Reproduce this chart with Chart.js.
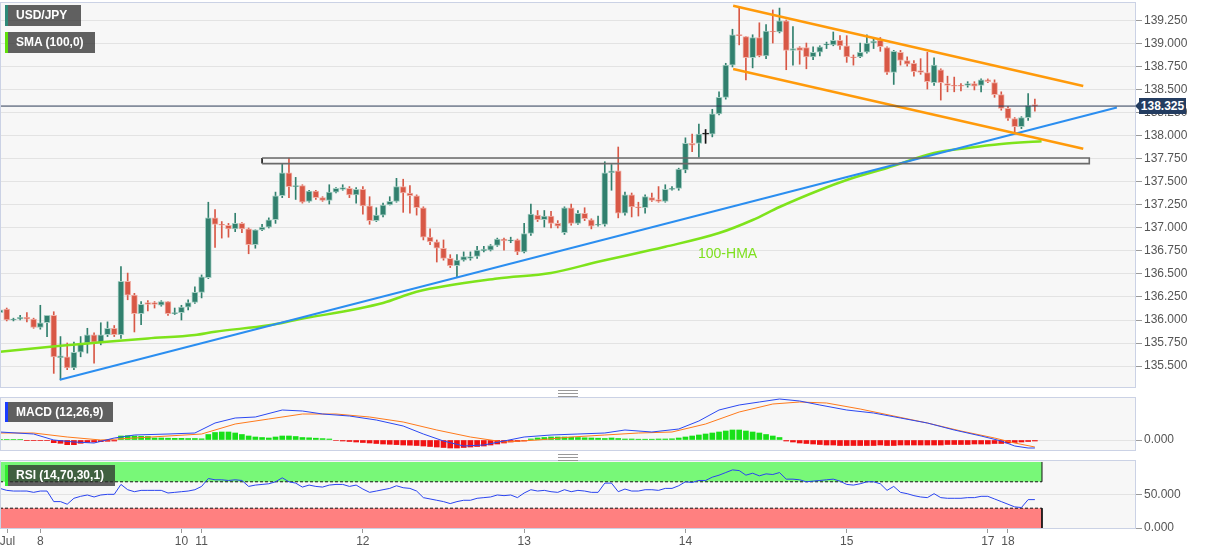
<!DOCTYPE html>
<html>
<head>
<meta charset="utf-8">
<script src="https://cdn.jsdelivr.net/npm/chart.js@4.4.0/dist/chart.umd.min.js"></script>
<style>
body { margin: 0; background: #fff; font-family: "Liberation Sans", Arial, sans-serif; }
#wrap { position: relative; width: 1207px; height: 555px; overflow: hidden; }
canvas { position: absolute; left: 0; }
.tag { position: absolute; height: 21px; line-height: 21px; color: #fff; font-weight: bold; font-size: 12px;
       padding-left: 11px; box-sizing: border-box; background: rgba(45,45,45,0.75); white-space: nowrap; }
.tag i { position: absolute; left: 0; top: 0; bottom: 0; width: 3px; }
#price { position: absolute; left: 1139px; top: 98px; width: 47px; height: 16px; line-height: 16px; background: #233c60;
         color: #fff; font-weight: bold; font-size: 12px; text-align: center; }
#price:before { content: ""; position: absolute; left: -4px; top: 4px; border-style: solid; border-width: 4px 4px 4px 0;
                border-color: transparent #233c60 transparent transparent; }
#hma { position: absolute; left: 698px; top: 245px; color: #7ee01f; font-size: 14px; }
.grip { position: absolute; left: 558px; width: 20px; height: 5px; border-top: 1px solid #999; border-bottom: 1px solid #999; }
.grip:after { content: ""; position: absolute; left: 0; right: 0; top: 2px; border-top: 1px solid #999; }
</style>
</head>
<body>
<div id="wrap">
  <canvas id="mainChart" width="1207" height="386" style="top:2px"></canvas>
  <canvas id="macdChart" width="1207" height="54" style="top:397px"></canvas>
  <canvas id="rsiChart" width="1207" height="95" style="top:460px"></canvas>
  <div class="tag" style="left:5px;top:5px;width:76px"><i style="background:#2d8a78"></i>USD/JPY</div>
  <div class="tag" style="left:5px;top:32px;width:90px"><i style="background:#5fe00a"></i>SMA (100,0)</div>
  <div class="tag" style="left:5px;top:402px;width:108px;height:20px;line-height:20px"><i style="background:#1a3cff"></i>MACD (12,26,9)</div>
  <div class="tag" style="left:5px;top:465px;width:110px"><i style="background:#33ee33"></i>RSI (14,70,30,1)</div>
  <div id="price">138.325</div>
  <div id="hma">100-HMA</div>
  <div class="grip" style="top:390px"></div>
  <div class="grip" style="top:454px"></div>
</div>
<script>
// hourly candles, index 0 = Jul 7 18:00
const candleOpen = [
  136.08, 136.12, 136.00, 136.01, 136.03, 136.01, 135.92, 135.97, 136.05, 135.59,
  135.60, 135.48, 135.65, 135.75, 135.84, 135.75, 135.84, 135.91, 135.84, 136.42,
  136.27, 136.07, 136.19, 136.19, 136.16, 136.20, 136.07, 136.08, 136.14, 136.19,
  136.30, 136.46, 137.11, 137.04, 137.03, 136.99, 137.05, 136.99, 136.82, 136.98,
  137.01, 137.09, 137.35, 137.60, 137.45, 137.46, 137.29, 137.40, 137.33, 137.30,
  137.39, 137.42, 137.43, 137.36, 137.42, 137.24, 137.08, 137.14, 137.25, 137.29,
  137.45, 137.38, 137.35, 137.22, 136.90, 136.85, 136.78, 136.67, 136.59, 136.65,
  136.67, 136.69, 136.75, 136.76, 136.81, 136.88, 136.86, 136.87, 136.74, 136.94,
  137.14, 137.09, 137.13, 137.05, 136.95, 137.22, 137.05, 137.16, 137.09, 137.03,
  137.04, 137.60, 137.62, 137.16, 137.36, 137.23, 137.22, 137.33, 137.31, 137.29,
  137.42, 137.43, 137.63, 137.92, 137.92, 138.02, 138.02, 138.24, 138.42, 138.77,
  139.10, 139.08, 138.85, 139.07, 138.87, 139.14, 139.13, 139.25, 138.93, 138.96,
  138.96, 138.86, 138.91, 138.99, 138.99, 139.04, 138.98, 138.86, 138.86, 138.91,
  139.01, 139.04, 138.96, 138.69, 138.91, 138.82, 138.79, 138.71, 138.69, 138.58,
  138.72, 138.57, 138.55, 138.55, 138.55, 138.57, 138.55, 138.61, 138.58, 138.45,
  138.30, 138.19, 138.10, 138.20, 138.34
];
const candleHigh = [
  136.12, 136.13, 136.02, 136.05, 136.08, 136.02, 136.16, 136.05, 136.09, 135.82,
  135.75, 135.76, 135.82, 135.91, 135.86, 135.97, 135.98, 135.94, 136.58, 136.51,
  136.29, 136.20, 136.21, 136.20, 136.21, 136.20, 136.13, 136.16, 136.22, 136.36,
  136.49, 137.28, 137.20, 137.07, 137.05, 137.16, 137.06, 137.00, 136.98, 137.04,
  137.11, 137.39, 137.70, 137.76, 137.55, 137.47, 137.41, 137.41, 137.34, 137.47,
  137.44, 137.47, 137.45, 137.44, 137.45, 137.34, 137.22, 137.27, 137.34, 137.54,
  137.53, 137.46, 137.36, 137.23, 136.99, 136.87, 136.87, 136.71, 136.71, 136.74,
  136.74, 136.80, 136.80, 136.82, 136.89, 136.89, 136.90, 136.88, 137.05, 137.26,
  137.19, 137.19, 137.18, 137.08, 137.23, 137.26, 137.19, 137.22, 137.10, 137.13,
  137.72, 137.69, 137.88, 137.39, 137.38, 137.28, 137.36, 137.38, 137.45, 137.47,
  137.45, 137.65, 137.98, 138.02, 138.13, 138.07, 138.29, 138.48, 138.79, 139.16,
  139.40, 139.08, 139.10, 139.23, 139.21, 139.37, 139.39, 139.26, 139.19, 138.97,
  139.01, 138.97, 138.98, 139.02, 139.13, 139.09, 139.09, 138.88, 139.01, 139.10,
  139.07, 139.07, 138.97, 138.93, 138.93, 138.86, 138.82, 138.84, 138.91, 138.85,
  138.73, 138.65, 138.64, 138.57, 138.59, 138.59, 138.62, 138.62, 138.61, 138.48,
  138.32, 138.20, 138.21, 138.46, 138.40
];
const candleLow = [
  136.07, 135.99, 135.99, 136.00, 135.98, 135.91, 135.90, 135.82, 135.42, 135.35,
  135.46, 135.46, 135.60, 135.64, 135.53, 135.73, 135.82, 135.82, 135.80, 136.22,
  135.87, 135.95, 136.10, 136.13, 136.15, 136.05, 136.06, 136.00, 136.11, 136.18,
  136.24, 136.45, 136.79, 136.89, 136.90, 136.96, 136.95, 136.72, 136.78, 136.97,
  137.00, 137.05, 137.33, 137.33, 137.31, 137.27, 137.28, 137.31, 137.29, 137.26,
  137.38, 137.41, 137.33, 137.27, 137.15, 137.04, 137.07, 137.12, 137.25, 137.28,
  137.17, 137.16, 137.14, 136.87, 136.82, 136.63, 136.65, 136.57, 136.47, 136.64,
  136.65, 136.67, 136.74, 136.75, 136.80, 136.76, 136.84, 136.71, 136.73, 136.92,
  137.07, 137.01, 137.00, 137.00, 136.93, 137.03, 137.04, 137.08, 136.99, 137.02,
  137.02, 137.41, 137.11, 137.14, 137.12, 137.13, 137.16, 137.29, 137.28, 137.28,
  137.41, 137.41, 137.60, 137.83, 137.77, 137.92, 137.99, 138.23, 138.40, 138.75,
  138.99, 138.61, 138.74, 138.86, 138.84, 139.01, 139.12, 138.72, 138.77, 138.78,
  138.73, 138.83, 138.87, 138.95, 138.98, 138.94, 138.80, 138.77, 138.85, 138.90,
  138.95, 138.92, 138.67, 138.56, 138.77, 138.76, 138.65, 138.67, 138.51, 138.55,
  138.39, 138.48, 138.48, 138.49, 138.53, 138.50, 138.48, 138.58, 138.42, 138.28,
  138.17, 138.03, 138.08, 138.17, 138.27
];
const candleClose = [
  136.11, 136.00, 136.01, 136.03, 136.01, 135.92, 135.97, 136.05, 135.60, 135.61,
  135.48, 135.65, 135.75, 135.84, 135.76, 135.84, 135.91, 135.84, 136.42, 136.27,
  136.07, 136.17, 136.17, 136.17, 136.20, 136.07, 136.08, 136.14, 136.19, 136.30,
  136.47, 137.11, 137.04, 137.03, 136.99, 137.05, 136.99, 136.82, 136.98, 137.01,
  137.09, 137.35, 137.60, 137.45, 137.46, 137.28, 137.40, 137.33, 137.30, 137.39,
  137.43, 137.44, 137.36, 137.42, 137.24, 137.08, 137.14, 137.25, 137.29, 137.45,
  137.38, 137.35, 137.22, 136.90, 136.85, 136.78, 136.67, 136.59, 136.65, 136.69,
  136.69, 136.76, 136.77, 136.81, 136.88, 136.86, 136.87, 136.74, 136.94, 137.15,
  137.09, 137.13, 137.05, 137.02, 137.22, 137.05, 137.16, 137.10, 137.02, 137.04,
  137.60, 137.62, 137.16, 137.36, 137.23, 137.22, 137.34, 137.30, 137.29, 137.42,
  137.43, 137.64, 137.92, 137.90, 138.02, 138.02, 138.24, 138.42, 138.77, 139.10,
  139.09, 138.85, 139.07, 138.87, 139.14, 139.13, 139.25, 138.93, 138.95, 138.93,
  138.86, 138.91, 138.97, 139.00, 139.04, 138.98, 138.86, 138.85, 138.91, 139.01,
  139.03, 138.97, 138.69, 138.92, 138.82, 138.78, 138.70, 138.69, 138.59, 138.77,
  138.58, 138.55, 138.54, 138.54, 138.57, 138.54, 138.61, 138.59, 138.45, 138.30,
  138.19, 138.10, 138.20, 138.33, 138.325
];
const lastPrice = 138.325;

// 100-period moving average, read at a few candle positions
const smaK   = [0, 9, 15, 22, 29, 32, 40, 44, 57, 62, 74, 82, 89, 99, 107, 112, 116, 122, 126, 132, 139, 144, 149, 155];
const smaVal = [135.655, 135.72, 135.757, 135.80, 135.837, 135.873, 135.942, 136.00, 136.185, 136.307, 136.451, 136.511,
                136.633, 136.796, 136.945, 137.087, 137.228, 137.413, 137.522, 137.652, 137.815, 137.87, 137.913, 137.942];

// drawn studies
const trendK = [8.9, 166.2],   trendVal = [135.35, 138.31];
const chTopK = [109.1, 161.2], chTopVal = [139.416, 138.543];
const chBotK = [109.1, 161.2], chBotVal = [138.728, 137.862];
const zoneK  = [39, 162.1],    zoneVal  = [137.70, 137.76];

// MACD (12,26,9)
const macdK   = [0, 5, 8, 11, 14, 17, 20, 25, 29, 32, 35, 38, 42, 45, 48, 52, 56, 60, 63, 66, 69, 72, 75, 78, 82, 86, 90, 93,
                 97, 101, 104, 107, 110, 113, 116, 119, 122, 126, 130, 134, 138, 142, 146, 149, 151, 153, 154];
const macdVal = [0.08, 0.06, 0.00, -0.02, -0.03, 0.02, 0.05, 0.06, 0.07, 0.17, 0.22, 0.23, 0.30, 0.29, 0.26, 0.24, 0.20,
                 0.14, 0.06, -0.01, -0.06, -0.05, -0.01, 0.03, 0.05, 0.06, 0.07, 0.10, 0.08, 0.11, 0.19, 0.30, 0.35, 0.38,
                 0.41, 0.39, 0.35, 0.30, 0.27, 0.22, 0.17, 0.10, 0.04, -0.01, -0.06, -0.08, -0.08];
const signalK   = [0, 5, 10, 15, 20, 25, 30, 35, 40, 45, 50, 55, 60, 65, 70, 75, 80, 85, 90, 95, 100, 105, 110, 115, 119,
                   123, 128, 133, 138, 143, 148, 151, 154];
const signalVal = [0.07, 0.07, 0.03, 0.00, 0.02, 0.04, 0.06, 0.16, 0.21, 0.26, 0.26, 0.23, 0.18, 0.10, 0.03, -0.02, 0.00,
                   0.03, 0.05, 0.07, 0.08, 0.16, 0.28, 0.36, 0.38, 0.37, 0.31, 0.24, 0.17, 0.09, 0.02, -0.03, -0.07];
const histVal = [
  0.004, 0.004, 0.004, 0.004, -0.006, -0.006, -0.006, -0.006, -0.027, -0.033,
  -0.047, -0.047, -0.033, -0.023, -0.02, -0.017, -0.013, -0.01, 0.04, 0.043,
  0.04, 0.037, 0.035, 0.02, 0.02, 0.018, 0.017, 0.017, 0.015, 0.015,
  0.012, 0.055, 0.075, 0.08, 0.08, 0.07, 0.055, 0.04, 0.03, 0.025,
  0.02, 0.03, 0.04, 0.04, 0.035, 0.025, 0.022, 0.018, 0.014, 0.01,
  -0.005, -0.01, -0.015, -0.02, -0.025, -0.03, -0.035, -0.04, -0.043, -0.046,
  -0.05, -0.052, -0.055, -0.06, -0.065, -0.07, -0.075, -0.08, -0.08, -0.075,
  -0.07, -0.065, -0.06, -0.05, -0.04, -0.03, -0.02, -0.015, -0.01, 0.01,
  0.02, 0.025, 0.03, 0.03, 0.03, 0.028, 0.025, 0.022, 0.02, 0.018,
  0.015, 0.02, 0.015, 0.01, 0.01, 0.008, 0.008, 0.008, 0.01, 0.01,
  0.012, 0.02, 0.03, 0.04, 0.05, 0.06, 0.07, 0.08, 0.09, 0.1,
  0.1, 0.09, 0.08, 0.07, 0.055, 0.04, 0.025, -0.01, -0.02, -0.03,
  -0.035, -0.04, -0.045, -0.05, -0.05, -0.055, -0.055, -0.055, -0.055, -0.055,
  -0.055, -0.05, -0.055, -0.055, -0.05, -0.05, -0.05, -0.05, -0.05, -0.05,
  -0.05, -0.045, -0.045, -0.045, -0.045, -0.04, -0.04, -0.04, -0.035, -0.035,
  -0.03, -0.025, -0.02, -0.015, -0.01
];

// RSI (14)
const rsiVal = [
  60, 57, 56, 56, 56, 54, 56, 56, 40, 40,
  36, 45, 48, 50, 47, 50, 51, 51, 66, 58,
  55, 57, 57, 57, 57, 53, 54, 55, 56, 58,
  63, 75, 73, 73, 72, 73, 72, 63, 65, 66,
  67, 70, 76, 70, 68, 62, 65, 63, 62, 65,
  66, 66, 63, 65, 59, 54, 56, 58, 60, 64,
  61, 60, 56, 46, 44, 42, 40, 37, 40, 42,
  42, 45, 46, 47, 50, 49, 50, 46, 53, 58,
  56, 57, 55, 54, 58, 55, 57, 56, 54, 54,
  68, 68, 55, 59, 56, 56, 58, 58, 57, 60,
  60, 64, 70, 69, 72, 72, 77, 80, 84, 88,
  87, 80, 83, 79, 82, 81, 84, 74, 74, 73,
  70, 71, 72, 73, 74, 71, 66, 65, 67, 70,
  70, 67, 57, 63, 54, 52, 49, 47, 46, 52,
  46, 45, 45, 45, 46, 46, 48, 48, 44, 40,
  36, 32, 31, 43, 43
];
const rsiBandEndK = 155.06;

// x axis labels (candle index of each day start)
const dayTickPos    = [1.1, 6, 27, 30, 54, 78, 102, 126, 147, 150];
const dayTickLabels = ['Jul', '8', '10', '11', '12', '13', '14', '15', '17', '18'];

const mainTicks = [135.5, 135.75, 136, 136.25, 136.5, 136.75, 137, 137.25, 137.5, 137.75, 138, 138.25, 138.5, 138.75, 139, 139.25];

const X_MIN = 0, X_MAX = 169.05;
const FONT = { family: 'Liberation Sans, Arial, sans-serif', size: 12 };

const panelPlugin = {
  id: 'panel',
  beforeDraw(chart) {
    const { ctx, chartArea: a } = chart;
    ctx.save();
    ctx.fillStyle = '#f7f7f7';
    ctx.fillRect(a.left, a.top, a.width, a.height);
    ctx.restore();
  },
  afterDraw(chart) {
    const { ctx, chartArea: a } = chart;
    ctx.save();
    ctx.strokeStyle = '#cbd2e5';
    ctx.lineWidth = 1;
    ctx.strokeRect(a.left + 0.5, a.top + 0.5, a.width - 1, a.height - 1);
    ctx.restore();
  }
};

function pts(ks, vs) {
  return ks.map((k, i) => ({ x: k, y: vs[i] }));
}

function yAxis(min, max, tickVals) {
  return {
    position: 'right', min: min, max: max,
    afterBuildTicks: s => { s.ticks = tickVals.map(v => ({ value: v })); },
    afterFit: s => { s.width = 71; s.paddingTop = 0; s.paddingBottom = 0; },
    ticks: { color: '#555', font: FONT, padding: 2, callback: v => Number(v).toFixed(3) },
    grid: { color: '#e3e3e3', tickColor: '#9a9a9a', tickLength: 6 },
    border: { display: false }
  };
}

function hiddenX() {
  return { type: 'linear', min: X_MIN, max: X_MAX, offset: false, grid: { offset: false }, display: false };
}

function baseOptions(scales) {
  return {
    responsive: false, animation: false, events: [],
    layout: { padding: 0, autoPadding: false },
    plugins: { legend: { display: false }, tooltip: { enabled: false } },
    scales: scales
  };
}

function line(data, color, width, order) {
  return { type: 'line', data: data, borderColor: color, borderWidth: width, pointRadius: 0, fill: false, order: order };
}

// candle colours
function bodyColor(i) {
  if (candleClose[i] > candleOpen[i]) return '#31806e';
  if (candleClose[i] < candleOpen[i]) return '#d85846';
  return '#111111';
}
function edgeColor(i) {
  if (candleClose[i] > candleOpen[i]) return '#a4cdc2';
  if (candleClose[i] < candleOpen[i]) return '#f0b1a8';
  return '#111111';
}

const wickData = candleOpen.map((o, i) => ({ x: i, y: [candleLow[i], candleHigh[i]] }));
const bodyData = candleOpen.map((o, i) => ({ x: i, y: [Math.min(o, candleClose[i]), Math.max(o, candleClose[i])] }));
const zoneData = [
  { x: zoneK[0], y: zoneVal[0] }, { x: zoneK[0], y: zoneVal[1] },
  { x: zoneK[1], y: zoneVal[1] }, { x: zoneK[1], y: zoneVal[0] }, { x: zoneK[0], y: zoneVal[0] }
];

new Chart(document.getElementById('mainChart'), {
  type: 'bar',
  data: {
    datasets: [
      Object.assign(line(zoneData, '#6a6a6a', 1.6, 0), {
        segment: { borderColor: c => c.p0DataIndex === 0 ? '#111' : undefined }
      }),
      line(pts([X_MIN, X_MAX], [lastPrice, lastPrice]), '#2c3b55', 1, 1),
      line(pts(chTopK, chTopVal), '#ff9a0a', 2.5, 2),
      line(pts(chBotK, chBotVal), '#ff9a0a', 2.5, 2),
      line(pts(trendK, trendVal), '#2b8ef0', 2, 3),
      Object.assign(line(pts(smaK, smaVal), '#7ee31b', 2.5, 4), { cubicInterpolationMode: 'monotone' }),
      {
        type: 'bar', data: bodyData, grouped: false, order: 9,
        barThickness: 6, minBarLength: 1, borderWidth: 1, borderSkipped: false,
        backgroundColor: c => bodyColor(c.dataIndex), borderColor: c => edgeColor(c.dataIndex)
      },
      {
        type: 'bar', data: wickData, grouped: false, order: 10, barThickness: 1,
        backgroundColor: c => bodyColor(c.dataIndex)
      }
    ]
  },
  options: baseOptions({ x: hiddenX(), y: yAxis(135.261, 139.456, mainTicks) }),
  plugins: [panelPlugin]
});

new Chart(document.getElementById('macdChart'), {
  type: 'bar',
  data: {
    datasets: [
      line(pts(macdK, macdVal), '#2b48f2', 1, 0),
      line(pts(signalK, signalVal), '#ff7a1c', 1, 1),
      {
        type: 'bar', order: 5, grouped: false, barThickness: 5,
        data: histVal.map((v, i) => ({ x: i, y: v })),
        backgroundColor: c => histVal[c.dataIndex] >= 0 ? '#18e018' : '#f01212'
      }
    ]
  },
  options: baseOptions({ x: hiddenX(), y: yAxis(-0.11, 0.43, [0]) }),
  plugins: [panelPlugin]
});

const dashFirst = { borderDash: c => c.p0DataIndex === 0 ? [3, 2] : [] };

new Chart(document.getElementById('rsiChart'), {
  type: 'line',
  data: {
    datasets: [
      line(rsiVal.map((v, i) => ({ x: i, y: v })), '#2a44f0', 1, 0),
      Object.assign(line(pts([0, rsiBandEndK, rsiBandEndK], [70, 70, 100]), '#111', 1, 2), {
        fill: { value: 100 }, backgroundColor: '#78f878', segment: dashFirst
      }),
      Object.assign(line(pts([0, rsiBandEndK, rsiBandEndK], [30, 30, 0]), '#111', 1, 2), {
        fill: { value: 0 }, backgroundColor: '#ff8080', segment: dashFirst
      })
    ]
  },
  options: baseOptions({
    x: {
      type: 'linear', min: X_MIN, max: X_MAX, position: 'bottom',
      afterBuildTicks: s => { s.ticks = dayTickPos.map(v => ({ value: v })); },
      afterFit: s => { s.height = 26; s.paddingLeft = 0; s.paddingRight = 0; },
      ticks: { autoSkip: false, maxRotation: 0, color: '#555', font: FONT, padding: 1,
               callback: (v, i) => dayTickLabels[i] },
      grid: { drawOnChartArea: false, tickColor: '#9a9a9a', tickLength: 4 },
      border: { display: false }
    },
    y: yAxis(-1.5, 103, [0, 50])
  }),
  plugins: [panelPlugin]
});
</script>
</body>
</html>
